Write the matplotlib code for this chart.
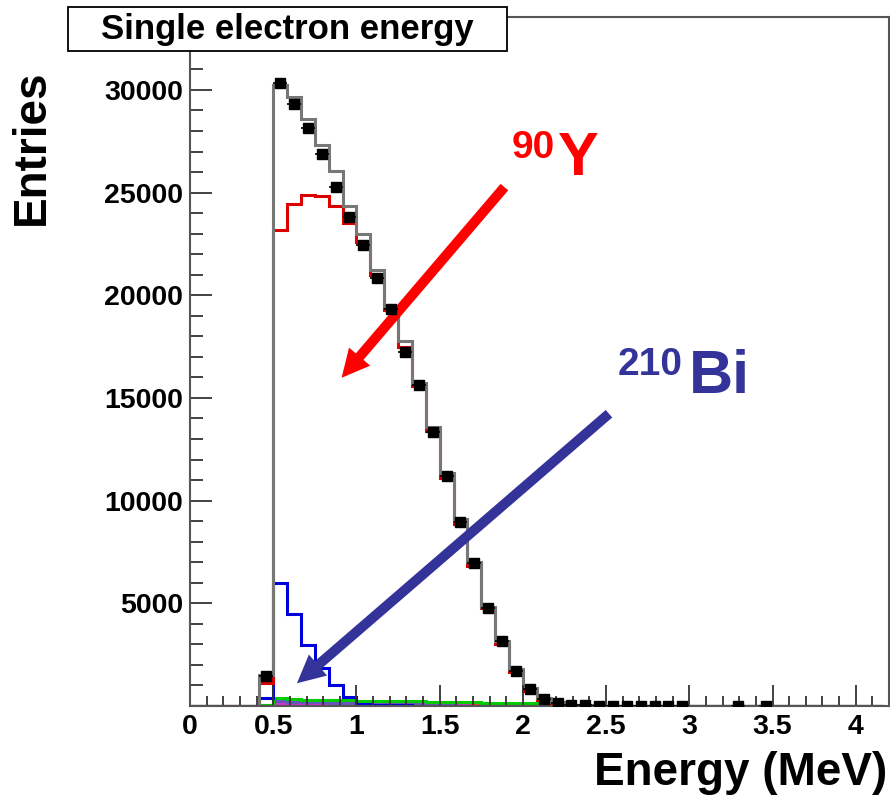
import matplotlib.pyplot as plt
import matplotlib.patches as patches
import numpy as np

plt.rcParams['font.family'] = ['Liberation Sans', 'DejaVu Sans']
plt.rcParams['font.weight'] = 'bold'

# Bins of 1/12 MeV from 0 to 50/12 MeV
edges = np.arange(51) / 12.0

# Counts per bin, bins 5 .. 41 (all other bins empty)
first_bin = 5
data = [1460, 30350, 29320, 28160, 26900, 25290, 23800, 22450, 20840, 19330,
        17240, 15630, 13330, 11220, 8980, 6980, 4790, 3170, 1720, 810,
        330, 130, 40, 25, 18, 14, 10, 8, 6, 4,
        3, 0, 0, 0, 1, 0, 1]
total = [1510, 30240, 29640, 28570, 27320, 26050, 24350, 22990, 21230, 19480,
         17790, 15720, 13600, 11360, 9100, 7030, 4840, 3170, 1800, 890,
         400, 180, 70, 30, 20, 15, 12, 10, 8, 6,
         5, 0, 4, 0, 0, 0, 0]
y90 = [1130, 23180, 24450, 24890, 24840, 24370, 23540, 22610, 21000, 19280,
       17480, 15580, 13390, 11120, 8850, 6820, 4760, 3000, 1670, 730,
       300, 100, 40, 20, 15, 12, 10, 8, 6, 5,
       4, 0, 5, 0, 0, 0, 0]
bi210 = [390, 6010, 4460, 2970, 1870, 1020, 450, 100, 40, 30,
         25, 20, 15, 10, 8, 5, 3, 0]
green = [50, 370, 330, 300, 290, 280, 270, 260, 250, 240,
         230, 220, 210, 200, 190, 180, 170, 160, 150, 140, 40, 10]
purple = [0, 220, 200, 190, 180, 170, 160, 150, 130, 110, 100, 90, 80, 60]
magenta = [0, 150, 140, 140, 130, 130, 120, 120, 110, 110, 100, 100, 90, 80, 60]
orange = [0, 80, 80, 75, 75, 70, 70, 65, 65, 60, 60, 55, 55, 50, 50,
          45, 45, 40, 35, 30, 25, 20]
low_red = [0, 110, 110, 105, 100, 100, 95, 90, 90, 85, 85, 80, 80, 75, 70,
           65, 60, 55, 50, 40, 30, 20]

xtick_vals = [0, 0.5, 1, 1.5, 2, 2.5, 3, 3.5, 4]
xtick_labels = ['0', '0.5', '1', '1.5', '2', '2.5', '3', '3.5', '4']
ytick_vals = [5000, 10000, 15000, 20000, 25000, 30000]
ytick_labels = ['5000', '10000', '15000', '20000', '25000', '30000']


def full(vals):
    out = np.zeros(len(edges) - 1)
    out[first_bin:first_bin + len(vals)] = vals
    return out


fig = plt.figure(figsize=(8.9, 7.96), dpi=100)
ax = fig.add_axes([190 / 890, 90 / 796, 699 / 890, 689 / 796])

# small components along the bottom
ax.stairs(full(orange), edges, color='#ff9933', lw=2.2)
ax.stairs(full(low_red), edges, color='#ff3333', lw=2.2)
ax.stairs(full(magenta), edges, color='#cc33cc', lw=2.2)
ax.stairs(full(purple), edges, color='#6655bb', lw=2.2)
ax.stairs(full(green), edges, color='#00cc00', lw=2.2)

ax.stairs(full(bi210), edges, color='#0000dd', lw=2.2)
ax.stairs(full(y90), edges, color='#dd0000', lw=2.2)
ax.stairs(full(total), edges, color='#777777', lw=2.2)

# data points with bin-width error bars
d = full(data)
centers = 0.5 * (edges[:-1] + edges[1:])
m = d > 0
ax.errorbar(centers[m], d[m], xerr=1 / 24, yerr=np.sqrt(d[m]), fmt='s',
            color='black', ms=6.5, elinewidth=1.2, capsize=0, zorder=5)

ax.set_xlim(0, 4.2)
ax.set_ylim(0, 33550)

ax.set_xticks(xtick_vals)
ax.set_xticklabels(xtick_labels)
ax.set_xticks(np.arange(0, 4.21, 0.1), minor=True)
ax.set_yticks(ytick_vals)
ax.set_yticklabels(ytick_labels)
ax.set_yticks(np.arange(0, 33001, 1000), minor=True)

ax.tick_params(axis='both', which='both', direction='in', color='#333333',
               width=1.3, labelsize=20.5)
ax.tick_params(axis='y', which='major', length=16, pad=5)
ax.tick_params(axis='y', which='minor', length=9)
ax.tick_params(axis='x', which='major', length=15, pad=6)
ax.tick_params(axis='x', which='minor', length=7)
for lab in ax.get_xticklabels() + ax.get_yticklabels():
    lab.set_fontweight('bold')

for sp in ax.spines.values():
    sp.set_color('#555555')
    sp.set_linewidth(1.5)

# arrows and isotope labels
ax.annotate('', xy=(0.90, 15880), xytext=(1.90, 25370),
            arrowprops=dict(arrowstyle='simple,head_length=1.0,head_width=1.0,tail_width=0.36',
                            mutation_scale=20, color='#ff0000', lw=0))
ax.annotate('', xy=(0.63, 1020), xytext=(2.53, 14320),
            arrowprops=dict(arrowstyle='simple,head_length=1.0,head_width=1.0,tail_width=0.36',
                            mutation_scale=20, color='#333399', lw=0))

ax.text(1.93, 26690, '90', color='#ff0000', fontsize=28, fontweight='bold',
        ha='left', va='baseline')
ax.text(2.21, 25860, 'Y', color='#ff0000', fontsize=44, fontweight='bold',
        ha='left', va='baseline')
ax.text(2.57, 16120, '210', color='#333399', fontsize=28, fontweight='bold',
        ha='left', va='baseline')
ax.text(3.00, 15240, 'Bi', color='#333399', fontsize=44, fontweight='bold',
        ha='left', va='baseline')

# title box
fig.add_artist(patches.Rectangle((68 / 890, 1 - 51 / 796), 439 / 890, 44 / 796,
                                 transform=fig.transFigure, fc='white',
                                 ec='black', lw=1.3, zorder=10))
fig.text(287 / 890, 1 - 29 / 796, 'Single electron energy', fontsize=25,
         fontweight='bold', ha='center', va='center', zorder=11)

fig.text(32 / 890, 1 - 147 / 796, 'Entries', rotation=90, fontsize=33,
         fontweight='bold', ha='center', va='center')
fig.text(887 / 890, 1 - 785 / 796, 'Energy (MeV)', fontsize=33,
         fontweight='bold', ha='right', va='baseline')

fig.savefig('out.png', dpi=100)
